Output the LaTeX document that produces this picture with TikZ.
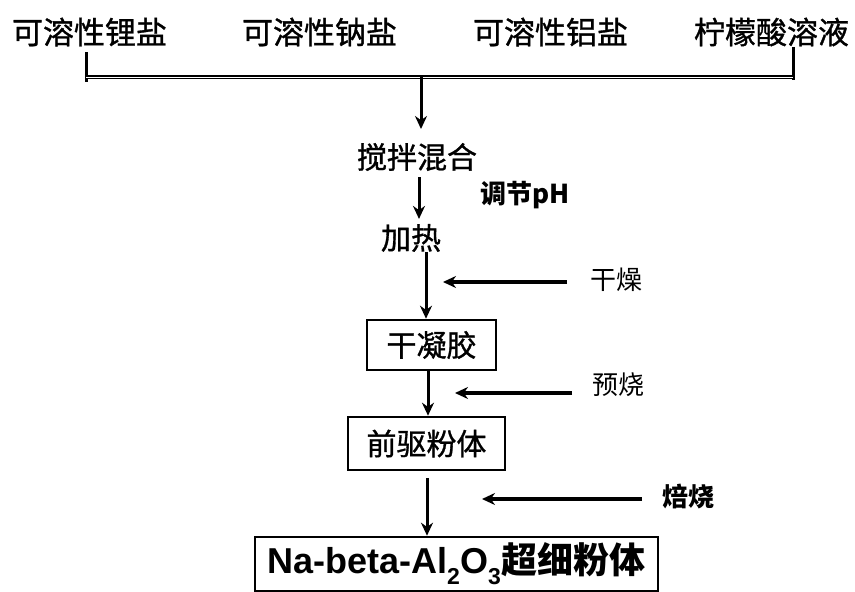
\documentclass[tikz,border=0pt]{standalone}
\usepackage{fontspec}
\setmainfont{Noto Sans CJK SC}
\newfontfamily\cjkheavy[FakeBold=1]{Noto Sans CJK SC}
\newfontfamily\latfont{Liberation Sans}
\usetikzlibrary{arrows.meta}
\newcommand\lowidx[1]{\raisebox{-0.3em}{\fontsize{23}{23}\selectfont #1}}
\begin{document}
\begin{tikzpicture}[x=1pt,y=-1pt,
  toplabel/.style={inner sep=0pt, font=\fontsize{31}{31}\selectfont\cjkheavy},
  steplabel/.style={inner sep=0pt, font=\fontsize{30}{30}\selectfont\cjkheavy},
  sidelabel/.style={inner sep=0pt, font=\fontsize{26}{26}\selectfont},
  procbox/.style={draw, line width=2.6pt, inner sep=0pt, font=\fontsize{30}{30}\selectfont\cjkheavy},
  arr/.style={line width=3pt, -{Stealth[length=13pt,width=12pt]}},
  harr/.style={line width=3.4pt, -{Stealth[length=13pt,width=12pt]}},
  bracketv/.style={line width=3pt},
  bracketh/.style={line width=1.2pt, double, double distance=0.9pt}]
\useasboundingbox (0,0) rectangle (855,592);
% top labels
\node[toplabel] (li) at (89.5,32) {可溶性锂盐};
\node[toplabel] (na) at (319.5,32) {可溶性钠盐};
\node[toplabel] (al) at (550.5,32) {可溶性铝盐};
\node[toplabel] (cit) at (771.5,32) {柠檬酸溶液};
% bracket
\coordinate (bl) at (86,52);
\coordinate (blb) at (86,82);
\coordinate (hl) at (86,77);
\coordinate (hr) at (793,77);
\coordinate (br) at (793,47);
\coordinate (brb) at (793,80);
\coordinate (mid) at (421,77);
\coordinate (midtip) at (421,129);
\draw[bracketv] (bl) -- (blb);
\draw[bracketv] (br) -- (brb);
\draw[bracketh] (hl) -- (hr);
% steps
\node[steplabel] (stir) at (417,157) {搅拌混合};
\node[steplabel] (heat) at (411,238) {加热};
\node[procbox, minimum width=129pt, minimum height=50pt] (gel) at (431.5,345) {干凝胶};
\node[procbox, minimum width=157pt, minimum height=53pt] (prec) at (426.5,443.5) {前驱粉体};
\node[procbox, minimum width=403pt, minimum height=54pt, font=\fontsize{36}{36}\selectfont\bfseries] (final) at (456.5,564)
  {{\latfont Na-beta-Al\lowidx{2}O\lowidx{3}\kern1pt}超细粉体};
% side labels
\node[sidelabel, font=\fontsize{26}{26}\selectfont\bfseries] (ph) at (525,195) {调节pH};
\node[sidelabel] (dry) at (616.5,280) {干燥};
\node[sidelabel] (pre) at (618.5,385) {预烧};
\node[sidelabel, font=\fontsize{26}{26}\selectfont\bfseries] (cal) at (688.5,497) {焙烧};
% vertical arrows
\draw[arr] (mid) -- (midtip);
\draw[arr, shorten <=6pt, shorten >=5pt] (stir.south -| 419,0) -- (heat.north -| 419,0);
\draw[arr] (heat.south -| 426,0) -- (gel.north -| 426,0);
\draw[arr] (gel.south -| 428,0) -- (prec.north -| 428,0);
\draw[arr, shorten <=7pt] (prec.south -| 427,0) -- (final.north -| 427,0);
% side arrows
\coordinate (drys) at (567,282);
\coordinate (dryt) at (443,282);
\coordinate (pres) at (572,393);
\coordinate (pret) at (455,393);
\coordinate (cals) at (642,499);
\coordinate (calt) at (482,499);
\draw[harr] (drys) -- (dryt);
\draw[harr] (pres) -- (pret);
\draw[harr] (cals) -- (calt);
\end{tikzpicture}
\end{document}
